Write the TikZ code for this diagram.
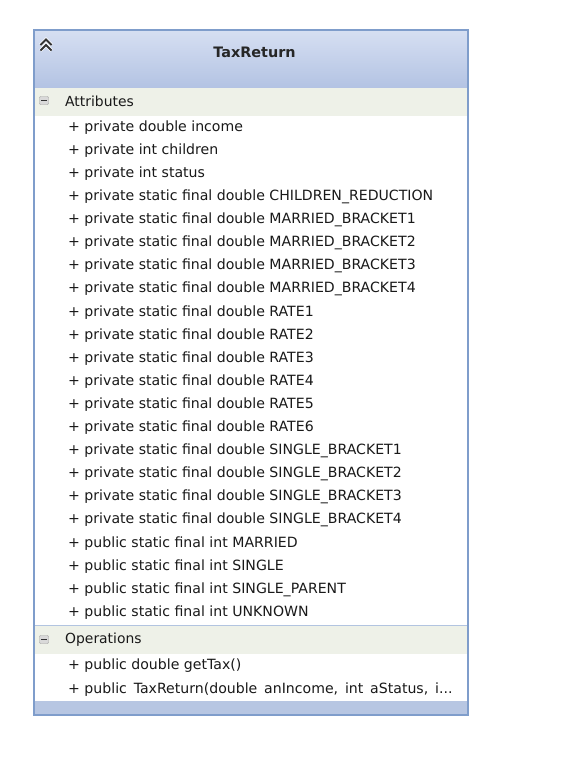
\documentclass[tikz,border=0pt]{standalone}
\usepackage{fontspec}
\setmainfont{DejaVu Sans}
\begin{document}
\begin{tikzpicture}[x=1pt,y=-1pt,
  item/.style={anchor=west,inner sep=0pt,font=\fontsize{14.1}{16}\selectfont,text=black!90},
  sechead/.style={anchor=west,inner sep=0pt,font=\fontsize{13.9}{16}\selectfont,text=black!90},
  mbox/.style={draw=gray!75,fill=gray!30,minimum width=9pt,minimum height=8pt,inner sep=0pt,rounded corners=1pt}]
\definecolor{hdtop}{HTML}{D6DFF2}
\definecolor{hdbot}{HTML}{B3C3E3}
\definecolor{bord}{HTML}{7F9DCB}
\definecolor{secbg}{HTML}{EEF1E8}
\definecolor{band}{HTML}{B7C6E2}
\useasboundingbox (0,0) rectangle (586,764);
\fill[white] (0,0) rectangle (586,764);
% header
\shade[top color=hdtop,bottom color=hdbot] (34,30) rectangle (468,88);
\node[font=\bfseries\fontsize{14.4}{16}\selectfont,text=black!85] (title) at (254.5,52) {TaxReturn};
% chevron icon
\draw[white,line width=3.2pt] (40.5,45) -- (46,39.5) -- (51.5,45) (40.5,50.5) -- (46,45) -- (51.5,50.5);
\draw[gray!40!black,line width=1.8pt] (40.5,45) -- (46,39.5) -- (51.5,45) (40.5,50.5) -- (46,45) -- (51.5,50.5);
% attributes section header
\fill[secbg] (35,88) rectangle (467,116);
\node[mbox] (m1) at (44,100.5) {};
\draw[gray!40!black,line width=1pt] (41,100.5) -- (47,100.5);
\node[sechead] (attr) at (65,101) {Attributes};
\foreach \t [count=\i from 0] in {
 + private double income,
 + private int children,
 + private int status,
 + private static final double CHILDREN\_REDUCTION,
 + private static final double MARRIED\_BRACKET1,
 + private static final double MARRIED\_BRACKET2,
 + private static final double MARRIED\_BRACKET3,
 + private static final double MARRIED\_BRACKET4,
 + private static final double RATE1,
 + private static final double RATE2,
 + private static final double RATE3,
 + private static final double RATE4,
 + private static final double RATE5,
 + private static final double RATE6,
 + private static final double SINGLE\_BRACKET1,
 + private static final double SINGLE\_BRACKET2,
 + private static final double SINGLE\_BRACKET3,
 + private static final double SINGLE\_BRACKET4,
 + public static final int MARRIED,
 + public static final int SINGLE,
 + public static final int SINGLE\_PARENT,
 + public static final int UNKNOWN}
 { \node[item] (a\i) at (68,{127.5+23.1*\i}) {\t}; }
% separator
\draw[bord!60,line width=0.8pt] (35,625.5) -- (467,625.5);
\fill[secbg] (35,626) rectangle (467,654);
\node[mbox] (m2) at (44,639.5) {};
\draw[gray!40!black,line width=1pt] (41,639.5) -- (47,639.5);
\node[sechead] (ops) at (65,640) {Operations};
\node[item] (o1) at (68,666) {+ public double getTax()};
\node[item] (o2) at (68,689.5) {+ public\ \,TaxReturn(double\ \,anIncome,\ \,int\ \,aStatus,\ \,i...};
% bottom band
\fill[band] (35,701) rectangle (467,715);
% border
\draw[bord,line width=1.2pt] (34,30) rectangle (468,715);
\end{tikzpicture}
\end{document}
